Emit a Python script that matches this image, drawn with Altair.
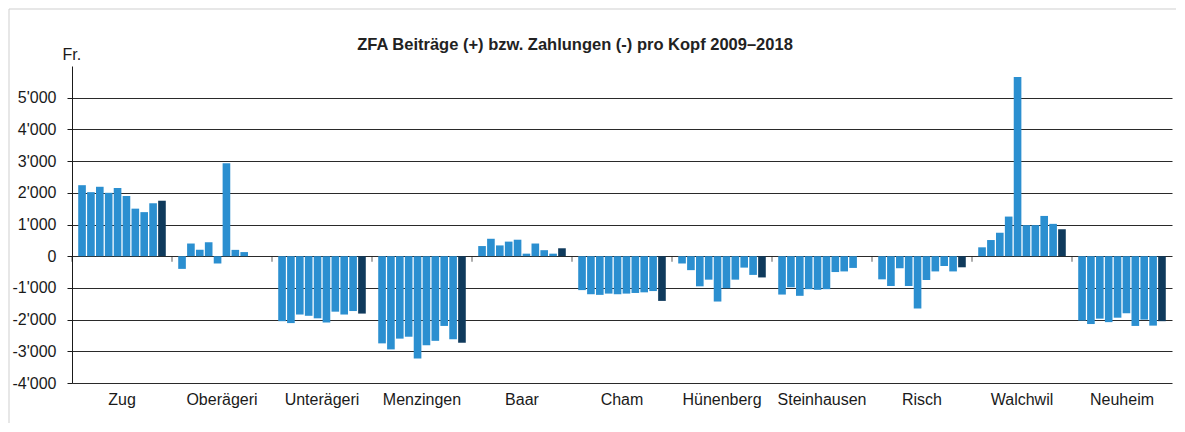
import altair as alt
import pandas as pd

gemeinden = ["Zug", "Oberägeri", "Unterägeri", "Menzingen", "Baar", "Cham",
             "Hünenberg", "Steinhausen", "Risch", "Walchwil", "Neuheim"]
jahre = [2009, 2010, 2011, 2012, 2013, 2014, 2015, 2016, 2017, 2018]

zug = [2240, 2020, 2190, 2000, 2150, 1900, 1500, 1390, 1670, 1750]
oberaegeri = [-400, 400, 200, 440, -230, 2930, 200, 130, 0, 0]
unteraegeri = [-2050, -2110, -1840, -1880, -1960, -2090, -1750, -1840, -1730, -1810]
menzingen = [-2750, -2940, -2600, -2540, -3230, -2810, -2670, -2200, -2620, -2730]
baar = [320, 550, 340, 460, 520, 80, 400, 190, 80, 250]
cham = [-1070, -1200, -1220, -1180, -1200, -1180, -1160, -1140, -1100, -1410]
huenenberg = [-230, -440, -950, -740, -1430, -1010, -740, -360, -590, -670]
steinhausen = [-1210, -980, -1250, -1040, -1060, -1040, -500, -480, -370, 0]
risch = [-730, -940, -380, -940, -1650, -750, -480, -310, -480, -350]
walchwil = [280, 510, 740, 1250, 5650, 980, 980, 1270, 1020, 850]
neuheim = [-2030, -2140, -1970, -2080, -1940, -1800, -2200, -2000, -2190, -2050]

y_ticks = [-4000, -3000, -2000, -1000, 0, 1000, 2000, 3000, 4000, 5000]

werte = [zug, oberaegeri, unteraegeri, menzingen, baar, cham,
         huenenberg, steinhausen, risch, walchwil, neuheim]

rows = []
for g, vals in zip(gemeinden, werte):
    for j, v in zip(jahre, vals):
        rows.append({"Gemeinde": g, "Jahr": j, "Wert": v})
df = pd.DataFrame(rows)

LIGHT = "#2b8fd0"
DARK = "#0f3a5c"
FONT = "Liberation Sans"

y_scale = alt.Scale(domain=[-4000, 6000], nice=False)
y_axis = alt.Axis(values=y_ticks, grid=True, gridColor="#2a2a2a", gridWidth=1,
                  domainColor="#1a1a1a", tickColor="#1a1a1a", tickSize=5,
                  labelOverlap=False, labelFlush=False,
                  labelPadding=11, labelFontSize=16, labelFont=FONT,
                  labelColor="#1a1a1a",
                  labelExpr="(datum.value < 0 ? '-' : '') + replace(format(abs(datum.value), ','), ',', \"'\")",
                  title="Fr.", titleAngle=0, titleX=-10, titleY=-4,
                  titleAlign="left", titleBaseline="bottom",
                  titleFontWeight="normal", titleFontSize=16, titleFont=FONT,
                  titleColor="#1a1a1a")
x_axis = alt.Axis(title=None, ticks=False, domain=False, labelAngle=0,
                  labelFontSize=16, labelPadding=8, labelColor="#1a1a1a",
                  labelFont=FONT, grid=False, labelOverlap=False)
x_scale = alt.Scale(paddingInner=0, paddingOuter=0)

bars = alt.Chart(df).mark_bar().encode(
    x=alt.X("Gemeinde:N", sort=gemeinden, scale=x_scale, axis=x_axis),
    xOffset=alt.XOffset("Jahr:O", scale=alt.Scale(paddingInner=0.14, paddingOuter=0.7)),
    y=alt.Y("Wert:Q", scale=y_scale, axis=y_axis),
    color=alt.condition(alt.datum.Jahr == 2018, alt.value(DARK), alt.value(LIGHT)),
)

tick_df = pd.DataFrame({"Gemeinde": gemeinden})
ticks = alt.Chart(tick_df).mark_tick(orient="vertical", size=5, yOffset=3,
                                     color="#1a1a1a", thickness=1).encode(
    x=alt.X("Gemeinde:N", sort=gemeinden, bandPosition=0, scale=x_scale, axis=x_axis),
    y=alt.YDatum(0, scale=y_scale, axis=y_axis),
)

frame = alt.Chart(pd.DataFrame({"a": [0]})).mark_rect(
    filled=False, stroke="#cfcfcf", strokeWidth=1, clip=False
).encode(
    x=alt.value(-63), x2=alt.value(1150), y=alt.value(-57), y2=alt.value(420)
)

chart = alt.layer(frame, bars, ticks).properties(
    width=1100, height=317,
    autosize=alt.AutoSizeParams(type="none"),
    padding={"left": 64, "top": 58, "right": 4, "bottom": 40},
    title=alt.Title("ZFA Beiträge (+) bzw. Zahlungen (-) pro Kopf 2009–2018",
                    fontSize=16.5, font=FONT, fontWeight="bold", anchor="middle",
                    dx=-47, dy=49, color="#222222"),
).configure_view(stroke=None)

chart.save("out.html", embed_options={"renderer": "svg", "actions": False})
